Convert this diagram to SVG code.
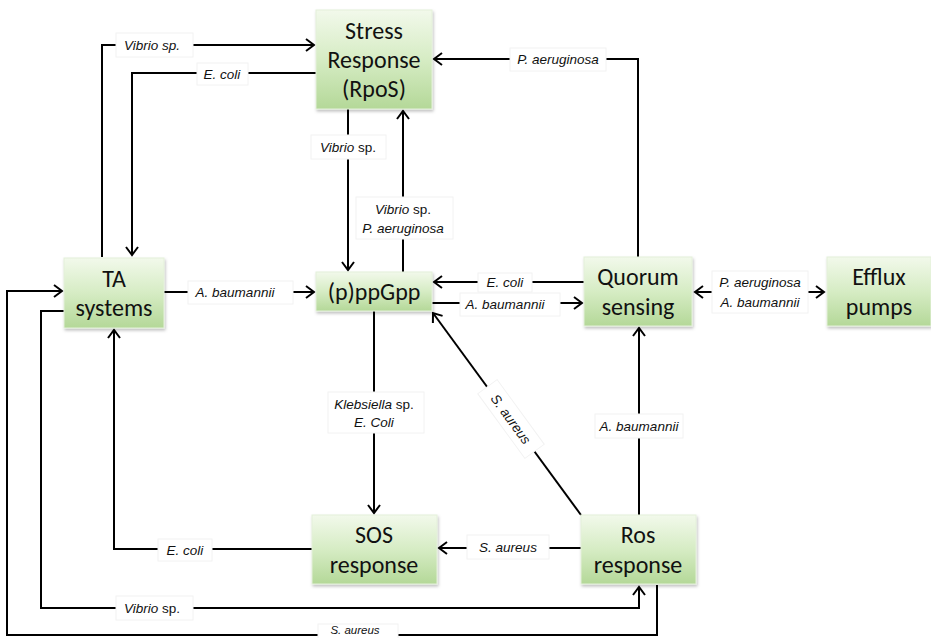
<svg xmlns="http://www.w3.org/2000/svg" width="931" height="638" viewBox="0 0 931 638">
<defs>
<linearGradient id="g" x1="0" y1="0" x2="0" y2="1">
<stop offset="0" stop-color="#f2f9eb"/>
<stop offset="0.5" stop-color="#d6ecc4"/>
<stop offset="1" stop-color="#b4d898"/>
</linearGradient>
<filter id="sh" x="-10%" y="-10%" width="125%" height="130%">
<feDropShadow dx="1" dy="2" stdDeviation="1.5" flood-color="#000" flood-opacity="0.25"/>
</filter>
<marker id="ah" markerUnits="userSpaceOnUse" markerWidth="14" markerHeight="14" refX="10" refY="7" orient="auto-start-reverse" viewBox="0 0 14 14">
<path d="M2,1 L10,7 L2,13" fill="none" stroke="#000" stroke-width="2"/>
</marker>
</defs>
<style>
.n rect{fill:url(#g);stroke:#e4f0da;stroke-width:1;filter:url(#sh)}
.n text{font-family:Carlito,"Liberation Sans",sans-serif;font-size:24px;fill:#111;text-anchor:middle}
.c path{fill:none;stroke:#000;stroke-width:2}
.lb rect{fill:#fff;stroke:#f2f2f2;stroke-width:1}
.lb text{font-family:"Liberation Sans",Arial,sans-serif;font-size:13.5px;font-style:italic;fill:#111;text-anchor:middle}
.up{font-style:normal}
</style>
<rect width="931" height="638" fill="#fff"/>
<g id="connectors" class="c">
<path d="M102,257 V45 H314" marker-end="url(#ah)"/>
<path d="M316,73 H132 V255" marker-end="url(#ah)"/>
<path d="M348,109 V270" marker-end="url(#ah)"/>
<path d="M403,272 V111" marker-end="url(#ah)"/>
<path d="M638,257 V59 H434" marker-end="url(#ah)"/>
<path d="M164,292 H314" marker-end="url(#ah)"/>
<path d="M584,282 H434" marker-end="url(#ah)"/>
<path d="M432,303 H582" marker-end="url(#ah)"/>
<path d="M695,292 H824" marker-start="url(#ah)" marker-end="url(#ah)"/>
<path d="M639,515 V328" marker-end="url(#ah)"/>
<path d="M581,515 L433,313" marker-end="url(#ah)"/>
<path d="M374,311 V513" marker-end="url(#ah)"/>
<path d="M581,548 H439" marker-end="url(#ah)"/>
<path d="M312,549 H114 V330" marker-end="url(#ah)"/>
<path d="M64,311 H41 V608 H639 V587" marker-end="url(#ah)"/>
<path d="M657,585 V635 H7 V291 H62" marker-end="url(#ah)"/>
</g>
<g id="labels" class="lb">
<g><rect x="116" y="33" width="77" height="24"/><text x="152" y="50">Vibrio sp.</text></g>
<g><rect x="197" y="63" width="51" height="22"/><text x="222" y="79">E. coli</text></g>
<g><rect x="311" y="135" width="75" height="24"/><text x="348" y="152">Vibrio<tspan class="up"> sp.</tspan></text></g>
<g><rect x="356" y="197" width="97" height="42"/><text x="403" y="214">Vibrio<tspan class="up"> sp.</tspan></text><text x="403" y="233">P. aeruginosa</text></g>
<g><rect x="510" y="48" width="96" height="23"/><text x="558" y="64">P. aeruginosa</text></g>
<g><rect x="188" y="281" width="105" height="23"/><text x="235" y="297">A. baumannii</text></g>
<g><rect x="478" y="273" width="54" height="19"/><text x="505" y="287">E. coli</text></g>
<g><rect x="460" y="293" width="100" height="23"/><text x="505" y="309">A. baumannii</text></g>
<g><rect x="712" y="271" width="96" height="42"/><text x="760" y="287">P. aeruginosa</text><text x="760" y="307">A. baumannii</text></g>
<g><rect x="595" y="414" width="88" height="24"/><text x="639" y="431">A. baumannii</text></g>
<g transform="translate(511,419) rotate(53.9)"><rect x="-40" y="-12" width="80" height="24"/><text x="0" y="5">S. aureus</text></g>
<g><rect x="328" y="392" width="96" height="41"/><text x="374" y="409">Klebsiella<tspan class="up"> sp.</tspan></text><text x="374" y="427">E. Coli</text></g>
<g><rect x="467" y="535" width="82" height="24"/><text x="508" y="552">S. aureus</text></g>
<g><rect x="158" y="539" width="54" height="22"/><text x="185" y="555">E. coli</text></g>
<g><rect x="116" y="596" width="77" height="24"/><text x="152" y="613">Vibrio<tspan class="up"> sp.</tspan></text></g>
<g><rect x="318" y="624" width="80" height="20"/><text x="355" y="634" style="font-size:11.5px">S. aureus</text></g>
</g>
<g id="stress" class="n"><rect x="316" y="10" width="116" height="99"/><text x="374" y="39">Stress</text><text x="374" y="68">Response</text><text x="374" y="97">(RpoS)</text></g>
<g id="ta" class="n"><rect x="64" y="258" width="100" height="70"/><text x="114" y="287">TA</text><text x="114" y="316">systems</text></g>
<g id="ppgpp" class="n"><rect x="316" y="272" width="116" height="39"/><text x="374" y="300">(p)ppGpp</text></g>
<g id="quorum" class="n"><rect x="584" y="257" width="108" height="69"/><text x="638" y="285">Quorum</text><text x="638" y="315">sensing</text></g>
<g id="efflux" class="n"><rect x="827" y="257" width="104" height="69"/><text x="879" y="285">Efflux</text><text x="879" y="315">pumps</text></g>
<g id="sos" class="n"><rect x="312" y="515" width="125" height="69"/><text x="374" y="543">SOS</text><text x="374" y="573">response</text></g>
<g id="ros" class="n"><rect x="581" y="515" width="115" height="69"/><text x="638" y="543">Ros</text><text x="638" y="573">response</text></g>
</svg>
